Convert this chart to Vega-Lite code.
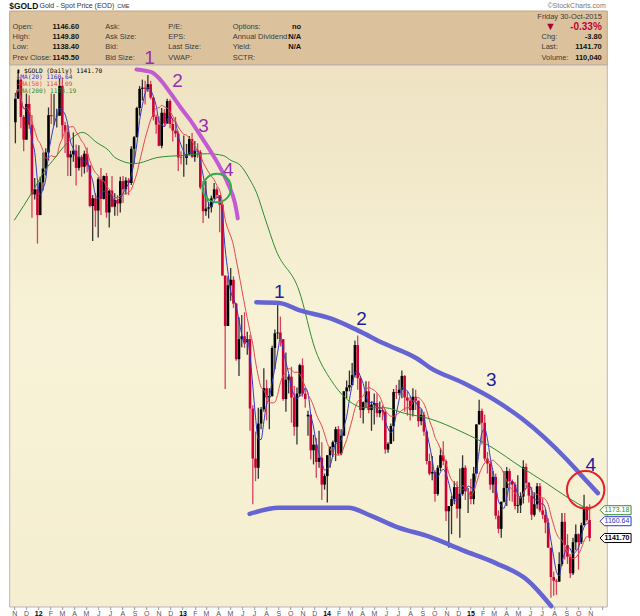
{
  "$schema": "https://vega.github.io/schema/vega-lite/v6.json",
  "autosize": {"type": "pad"},
  "padding": {"left": 8.2, "top": 0.5, "right": 0, "bottom": 0},
  "background": "#ffffff",
  "spacing": 0,
  "bounds": "flush",
  "config": {"font": "Liberation Sans", "concat": {"spacing": 0}},
  "datasets": {
    "header": [
      {"col": 0, "row": 0, "t": "$GOLD", "s": "ticker"},
      {"col": 2, "row": 0, "t": "Gold - Spot Price (EOD)", "s": "name"},
      {"col": 5, "row": 0, "t": "CME", "s": "exch"},
      {"col": 12, "row": 0, "t": "©StockCharts.com", "s": "credit"},
      {"col": 11, "row": 1, "t": "Friday  30-Oct-2015", "s": "date"},
      {"col": 1, "row": 2, "t": "Open:", "s": "label"},
      {"col": 1, "row": 3, "t": "High:", "s": "label"},
      {"col": 1, "row": 4, "t": "Low:", "s": "label"},
      {"col": 1, "row": 5, "t": "Prev Close:", "s": "label"},
      {"col": 3, "row": 2, "t": "1146.60", "s": "value"},
      {"col": 3, "row": 3, "t": "1149.80", "s": "value"},
      {"col": 3, "row": 4, "t": "1138.40", "s": "value"},
      {"col": 3, "row": 5, "t": "1145.50", "s": "value"},
      {"col": 4, "row": 2, "t": "Ask:", "s": "label"},
      {"col": 4, "row": 3, "t": "Ask Size:", "s": "label"},
      {"col": 4, "row": 4, "t": "Bid:", "s": "label"},
      {"col": 4, "row": 5, "t": "Bid Size:", "s": "label"},
      {"col": 6, "row": 2, "t": "P/E:", "s": "label"},
      {"col": 6, "row": 3, "t": "EPS:", "s": "label"},
      {"col": 6, "row": 4, "t": "Last Size:", "s": "label"},
      {"col": 6, "row": 5, "t": "VWAP:", "s": "label"},
      {"col": 7, "row": 2, "t": "Options:", "s": "label"},
      {"col": 7, "row": 3, "t": "Annual Dividend:", "s": "label"},
      {"col": 7, "row": 4, "t": "Yield:", "s": "label"},
      {"col": 7, "row": 5, "t": "SCTR:", "s": "label"},
      {"col": 8, "row": 2, "t": "no", "s": "rvalue"},
      {"col": 8, "row": 3, "t": "N/A", "s": "rvalue"},
      {"col": 8, "row": 4, "t": "N/A", "s": "rvalue"},
      {"col": 10, "row": 2, "t": "▼", "s": "arrow"},
      {"col": 11, "row": 2, "t": "-0.33%", "s": "change"},
      {"col": 9, "row": 3, "t": "Chg:", "s": "label"},
      {"col": 9, "row": 4, "t": "Last:", "s": "label"},
      {"col": 9, "row": 5, "t": "Volume:", "s": "label"},
      {"col": 11, "row": 3, "t": "-3.80", "s": "rvalue"},
      {"col": 11, "row": 4, "t": "1141.70", "s": "rvalue"},
      {"col": 11, "row": 5, "t": "110,040", "s": "rvalue"}
    ],
    "prices": [
      {"d": "2011-11-04", "o": 1715, "h": 1765, "l": 1680, "c": 1755},
      {"d": "2011-11-11", "o": 1755, "h": 1802, "l": 1755, "c": 1788},
      {"d": "2011-11-18", "o": 1788, "h": 1790, "l": 1705, "c": 1724},
      {"d": "2011-11-25", "o": 1724, "h": 1727, "l": 1667, "c": 1686},
      {"d": "2011-12-02", "o": 1686, "h": 1764, "l": 1686, "c": 1746},
      {"d": "2011-12-09", "o": 1746, "h": 1761, "l": 1704, "c": 1711},
      {"d": "2011-12-16", "o": 1711, "h": 1727, "l": 1562, "c": 1598},
      {"d": "2011-12-23", "o": 1598, "h": 1624, "l": 1590, "c": 1606},
      {"d": "2011-12-30", "o": 1606, "h": 1616, "l": 1523, "c": 1566},
      {"d": "2012-01-06", "o": 1566, "h": 1626, "l": 1566, "c": 1617},
      {"d": "2012-01-13", "o": 1617, "h": 1665, "l": 1604, "c": 1639},
      {"d": "2012-01-20", "o": 1639, "h": 1672, "l": 1628, "c": 1665},
      {"d": "2012-01-27", "o": 1665, "h": 1740, "l": 1652, "c": 1727},
      {"d": "2012-02-03", "o": 1727, "h": 1764, "l": 1712, "c": 1725},
      {"d": "2012-02-10", "o": 1725, "h": 1763, "l": 1710, "c": 1725},
      {"d": "2012-02-17", "o": 1725, "h": 1738, "l": 1706, "c": 1726},
      {"d": "2012-02-24", "o": 1726, "h": 1790, "l": 1726, "c": 1777},
      {"d": "2012-03-02", "o": 1777, "h": 1792, "l": 1688, "c": 1710},
      {"d": "2012-03-09", "o": 1710, "h": 1716, "l": 1664, "c": 1699},
      {"d": "2012-03-16", "o": 1699, "h": 1710, "l": 1627, "c": 1657},
      {"d": "2012-03-23", "o": 1657, "h": 1668, "l": 1627, "c": 1662},
      {"d": "2012-03-30", "o": 1662, "h": 1698, "l": 1650, "c": 1668},
      {"d": "2012-04-06", "o": 1668, "h": 1678, "l": 1612, "c": 1640},
      {"d": "2012-04-13", "o": 1640, "h": 1677, "l": 1636, "c": 1658},
      {"d": "2012-04-20", "o": 1658, "h": 1661, "l": 1626, "c": 1642},
      {"d": "2012-04-27", "o": 1642, "h": 1668, "l": 1631, "c": 1663},
      {"d": "2012-05-04", "o": 1663, "h": 1673, "l": 1633, "c": 1644},
      {"d": "2012-05-11", "o": 1644, "h": 1645, "l": 1578, "c": 1580},
      {"d": "2012-05-18", "o": 1580, "h": 1597, "l": 1527, "c": 1592},
      {"d": "2012-05-25", "o": 1592, "h": 1600, "l": 1548, "c": 1573},
      {"d": "2012-06-01", "o": 1573, "h": 1625, "l": 1532, "c": 1622},
      {"d": "2012-06-08", "o": 1622, "h": 1640, "l": 1566, "c": 1591},
      {"d": "2012-06-15", "o": 1591, "h": 1628, "l": 1590, "c": 1627},
      {"d": "2012-06-22", "o": 1627, "h": 1632, "l": 1562, "c": 1570},
      {"d": "2012-06-29", "o": 1570, "h": 1605, "l": 1547, "c": 1604},
      {"d": "2012-07-06", "o": 1604, "h": 1627, "l": 1578, "c": 1579},
      {"d": "2012-07-13", "o": 1579, "h": 1600, "l": 1565, "c": 1589},
      {"d": "2012-07-20", "o": 1589, "h": 1597, "l": 1565, "c": 1584},
      {"d": "2012-07-27", "o": 1584, "h": 1626, "l": 1570, "c": 1619},
      {"d": "2012-08-03", "o": 1619, "h": 1627, "l": 1585, "c": 1606},
      {"d": "2012-08-10", "o": 1606, "h": 1625, "l": 1598, "c": 1620},
      {"d": "2012-08-17", "o": 1620, "h": 1624, "l": 1597, "c": 1616},
      {"d": "2012-08-24", "o": 1616, "h": 1675, "l": 1613, "c": 1671},
      {"d": "2012-08-31", "o": 1671, "h": 1692, "l": 1647, "c": 1690},
      {"d": "2012-09-07", "o": 1690, "h": 1741, "l": 1690, "c": 1739},
      {"d": "2012-09-14", "o": 1739, "h": 1777, "l": 1726, "c": 1772},
      {"d": "2012-09-21", "o": 1772, "h": 1788, "l": 1752, "c": 1774},
      {"d": "2012-09-28", "o": 1774, "h": 1786, "l": 1745, "c": 1772},
      {"d": "2012-10-05", "o": 1772, "h": 1796, "l": 1767, "c": 1780},
      {"d": "2012-10-12", "o": 1780, "h": 1786, "l": 1754, "c": 1757},
      {"d": "2012-10-19", "o": 1757, "h": 1757, "l": 1718, "c": 1724},
      {"d": "2012-10-26", "o": 1724, "h": 1728, "l": 1696, "c": 1711},
      {"d": "2012-11-02", "o": 1711, "h": 1725, "l": 1675, "c": 1676},
      {"d": "2012-11-09", "o": 1676, "h": 1739, "l": 1672, "c": 1731},
      {"d": "2012-11-16", "o": 1731, "h": 1737, "l": 1707, "c": 1713},
      {"d": "2012-11-23", "o": 1713, "h": 1755, "l": 1713, "c": 1751},
      {"d": "2012-11-30", "o": 1751, "h": 1754, "l": 1705, "c": 1712},
      {"d": "2012-12-07", "o": 1712, "h": 1722, "l": 1683, "c": 1701},
      {"d": "2012-12-14", "o": 1701, "h": 1724, "l": 1690, "c": 1696},
      {"d": "2012-12-21", "o": 1696, "h": 1700, "l": 1635, "c": 1657},
      {"d": "2012-12-28", "o": 1657, "h": 1667, "l": 1646, "c": 1656},
      {"d": "2013-01-04", "o": 1656, "h": 1693, "l": 1626, "c": 1656},
      {"d": "2013-01-11", "o": 1656, "h": 1679, "l": 1645, "c": 1662},
      {"d": "2013-01-18", "o": 1662, "h": 1692, "l": 1660, "c": 1687},
      {"d": "2013-01-25", "o": 1687, "h": 1697, "l": 1656, "c": 1658},
      {"d": "2013-02-01", "o": 1658, "h": 1684, "l": 1650, "c": 1667},
      {"d": "2013-02-08", "o": 1667, "h": 1680, "l": 1656, "c": 1666},
      {"d": "2013-02-15", "o": 1666, "h": 1669, "l": 1606, "c": 1609},
      {"d": "2013-02-22", "o": 1609, "h": 1619, "l": 1554, "c": 1572},
      {"d": "2013-03-01", "o": 1572, "h": 1619, "l": 1565, "c": 1576},
      {"d": "2013-03-08", "o": 1576, "h": 1586, "l": 1561, "c": 1578},
      {"d": "2013-03-15", "o": 1578, "h": 1596, "l": 1570, "c": 1592},
      {"d": "2013-03-22", "o": 1592, "h": 1616, "l": 1590, "c": 1606},
      {"d": "2013-03-29", "o": 1606, "h": 1610, "l": 1592, "c": 1597},
      {"d": "2013-04-05", "o": 1597, "h": 1597, "l": 1540, "c": 1582},
      {"d": "2013-04-12", "o": 1582, "h": 1587, "l": 1476, "c": 1476},
      {"d": "2013-04-19", "o": 1476, "h": 1476, "l": 1321, "c": 1405},
      {"d": "2013-04-26", "o": 1405, "h": 1475, "l": 1405, "c": 1462},
      {"d": "2013-05-03", "o": 1462, "h": 1487, "l": 1440, "c": 1470},
      {"d": "2013-05-10", "o": 1470, "h": 1475, "l": 1430, "c": 1436},
      {"d": "2013-05-17", "o": 1436, "h": 1437, "l": 1358, "c": 1360},
      {"d": "2013-05-24", "o": 1360, "h": 1417, "l": 1338, "c": 1387},
      {"d": "2013-05-31", "o": 1387, "h": 1420, "l": 1376, "c": 1391},
      {"d": "2013-06-07", "o": 1391, "h": 1424, "l": 1375, "c": 1383},
      {"d": "2013-06-14", "o": 1383, "h": 1397, "l": 1366, "c": 1387},
      {"d": "2013-06-21", "o": 1387, "h": 1393, "l": 1268, "c": 1296},
      {"d": "2013-06-28", "o": 1296, "h": 1300, "l": 1180, "c": 1234},
      {"d": "2013-07-05", "o": 1234, "h": 1267, "l": 1207, "c": 1223},
      {"d": "2013-07-12", "o": 1223, "h": 1297, "l": 1210, "c": 1277},
      {"d": "2013-07-19", "o": 1277, "h": 1298, "l": 1270, "c": 1295},
      {"d": "2013-07-26", "o": 1295, "h": 1348, "l": 1292, "c": 1322},
      {"d": "2013-08-02", "o": 1322, "h": 1333, "l": 1281, "c": 1310},
      {"d": "2013-08-09", "o": 1310, "h": 1322, "l": 1270, "c": 1312},
      {"d": "2013-08-16", "o": 1312, "h": 1378, "l": 1311, "c": 1375},
      {"d": "2013-08-23", "o": 1375, "h": 1400, "l": 1347, "c": 1395},
      {"d": "2013-08-30", "o": 1395, "h": 1434, "l": 1387, "c": 1396},
      {"d": "2013-09-06", "o": 1396, "h": 1418, "l": 1377, "c": 1387},
      {"d": "2013-09-13", "o": 1387, "h": 1387, "l": 1306, "c": 1308},
      {"d": "2013-09-20", "o": 1308, "h": 1369, "l": 1292, "c": 1333},
      {"d": "2013-09-27", "o": 1333, "h": 1340, "l": 1315, "c": 1337},
      {"d": "2013-10-04", "o": 1337, "h": 1350, "l": 1278, "c": 1310},
      {"d": "2013-10-11", "o": 1310, "h": 1325, "l": 1262, "c": 1273},
      {"d": "2013-10-18", "o": 1273, "h": 1323, "l": 1251, "c": 1315},
      {"d": "2013-10-25", "o": 1315, "h": 1354, "l": 1311, "c": 1352},
      {"d": "2013-11-01", "o": 1352, "h": 1361, "l": 1311, "c": 1315},
      {"d": "2013-11-08", "o": 1315, "h": 1323, "l": 1297, "c": 1308},
      {"d": "2013-11-15", "o": 1286, "h": 1293, "l": 1262, "c": 1288},
      {"d": "2013-11-22", "o": 1288, "h": 1289, "l": 1233, "c": 1244},
      {"d": "2013-11-29", "o": 1244, "h": 1263, "l": 1227, "c": 1251},
      {"d": "2013-12-06", "o": 1251, "h": 1259, "l": 1211, "c": 1230},
      {"d": "2013-12-13", "o": 1230, "h": 1268, "l": 1223, "c": 1235},
      {"d": "2013-12-20", "o": 1235, "h": 1254, "l": 1185, "c": 1203},
      {"d": "2013-12-27", "o": 1203, "h": 1216, "l": 1197, "c": 1213},
      {"d": "2014-01-03", "o": 1213, "h": 1238, "l": 1182, "c": 1238},
      {"d": "2014-01-10", "o": 1238, "h": 1249, "l": 1223, "c": 1248},
      {"d": "2014-01-17", "o": 1248, "h": 1256, "l": 1236, "c": 1254},
      {"d": "2014-01-24", "o": 1254, "h": 1273, "l": 1231, "c": 1270},
      {"d": "2014-01-31", "o": 1270, "h": 1274, "l": 1238, "c": 1240},
      {"d": "2014-02-07", "o": 1240, "h": 1270, "l": 1238, "c": 1262},
      {"d": "2014-02-14", "o": 1262, "h": 1318, "l": 1262, "c": 1318},
      {"d": "2014-02-21", "o": 1318, "h": 1332, "l": 1309, "c": 1323},
      {"d": "2014-02-28", "o": 1323, "h": 1345, "l": 1318, "c": 1326},
      {"d": "2014-03-07", "o": 1326, "h": 1355, "l": 1327, "c": 1339},
      {"d": "2014-03-14", "o": 1339, "h": 1385, "l": 1336, "c": 1379},
      {"d": "2014-03-21", "o": 1379, "h": 1392, "l": 1320, "c": 1335},
      {"d": "2014-03-28", "o": 1335, "h": 1338, "l": 1284, "c": 1294},
      {"d": "2014-04-04", "o": 1294, "h": 1305, "l": 1277, "c": 1304},
      {"d": "2014-04-11", "o": 1304, "h": 1331, "l": 1297, "c": 1318},
      {"d": "2014-04-18", "o": 1318, "h": 1331, "l": 1290, "c": 1294},
      {"d": "2014-04-25", "o": 1294, "h": 1305, "l": 1268, "c": 1301},
      {"d": "2014-05-02", "o": 1301, "h": 1315, "l": 1276, "c": 1303},
      {"d": "2014-05-09", "o": 1303, "h": 1315, "l": 1285, "c": 1290},
      {"d": "2014-05-16", "o": 1290, "h": 1305, "l": 1285, "c": 1294},
      {"d": "2014-05-23", "o": 1294, "h": 1300, "l": 1281, "c": 1292},
      {"d": "2014-05-30", "o": 1292, "h": 1295, "l": 1240, "c": 1245},
      {"d": "2014-06-06", "o": 1245, "h": 1254, "l": 1241, "c": 1252},
      {"d": "2014-06-13", "o": 1252, "h": 1277, "l": 1252, "c": 1274},
      {"d": "2014-06-20", "o": 1274, "h": 1321, "l": 1255, "c": 1317},
      {"d": "2014-06-27", "o": 1317, "h": 1326, "l": 1308, "c": 1316},
      {"d": "2014-07-04", "o": 1316, "h": 1333, "l": 1313, "c": 1320},
      {"d": "2014-07-11", "o": 1320, "h": 1345, "l": 1309, "c": 1338},
      {"d": "2014-07-18", "o": 1338, "h": 1339, "l": 1292, "c": 1310},
      {"d": "2014-07-25", "o": 1310, "h": 1318, "l": 1287, "c": 1306},
      {"d": "2014-08-01", "o": 1306, "h": 1311, "l": 1281, "c": 1294},
      {"d": "2014-08-08", "o": 1294, "h": 1322, "l": 1286, "c": 1311},
      {"d": "2014-08-15", "o": 1311, "h": 1320, "l": 1294, "c": 1306},
      {"d": "2014-08-22", "o": 1306, "h": 1306, "l": 1273, "c": 1280},
      {"d": "2014-08-29", "o": 1280, "h": 1295, "l": 1275, "c": 1288},
      {"d": "2014-09-05", "o": 1288, "h": 1292, "l": 1262, "c": 1267},
      {"d": "2014-09-12", "o": 1267, "h": 1269, "l": 1227, "c": 1231},
      {"d": "2014-09-19", "o": 1231, "h": 1240, "l": 1214, "c": 1216},
      {"d": "2014-09-26", "o": 1216, "h": 1237, "l": 1208, "c": 1218},
      {"d": "2014-10-03", "o": 1218, "h": 1220, "l": 1183, "c": 1192},
      {"d": "2014-10-10", "o": 1192, "h": 1226, "l": 1190, "c": 1223},
      {"d": "2014-10-17", "o": 1223, "h": 1247, "l": 1219, "c": 1238},
      {"d": "2014-10-24", "o": 1238, "h": 1255, "l": 1226, "c": 1231},
      {"d": "2014-10-31", "o": 1231, "h": 1233, "l": 1161, "c": 1172},
      {"d": "2014-11-07", "o": 1172, "h": 1176, "l": 1131, "c": 1178},
      {"d": "2014-11-14", "o": 1178, "h": 1190, "l": 1146, "c": 1186},
      {"d": "2014-11-21", "o": 1186, "h": 1207, "l": 1180, "c": 1200},
      {"d": "2014-11-28", "o": 1200, "h": 1207, "l": 1164, "c": 1175},
      {"d": "2014-12-05", "o": 1175, "h": 1222, "l": 1142, "c": 1192},
      {"d": "2014-12-12", "o": 1192, "h": 1238, "l": 1190, "c": 1223},
      {"d": "2014-12-19", "o": 1223, "h": 1226, "l": 1185, "c": 1195},
      {"d": "2014-12-26", "o": 1195, "h": 1199, "l": 1170, "c": 1195},
      {"d": "2015-01-02", "o": 1195, "h": 1210, "l": 1180, "c": 1186},
      {"d": "2015-01-09", "o": 1186, "h": 1224, "l": 1180, "c": 1216},
      {"d": "2015-01-16", "o": 1216, "h": 1276, "l": 1216, "c": 1276},
      {"d": "2015-01-23", "o": 1276, "h": 1307, "l": 1276, "c": 1293},
      {"d": "2015-01-30", "o": 1293, "h": 1296, "l": 1251, "c": 1278},
      {"d": "2015-02-06", "o": 1278, "h": 1288, "l": 1231, "c": 1234},
      {"d": "2015-02-13", "o": 1234, "h": 1242, "l": 1216, "c": 1228},
      {"d": "2015-02-20", "o": 1228, "h": 1231, "l": 1197, "c": 1203},
      {"d": "2015-02-27", "o": 1203, "h": 1219, "l": 1193, "c": 1212},
      {"d": "2015-03-06", "o": 1212, "h": 1216, "l": 1163, "c": 1167},
      {"d": "2015-03-13", "o": 1167, "h": 1173, "l": 1147, "c": 1152},
      {"d": "2015-03-20", "o": 1152, "h": 1183, "l": 1142, "c": 1183},
      {"d": "2015-03-27", "o": 1183, "h": 1219, "l": 1182, "c": 1199},
      {"d": "2015-04-03", "o": 1199, "h": 1224, "l": 1178, "c": 1219},
      {"d": "2015-04-10", "o": 1219, "h": 1222, "l": 1184, "c": 1207},
      {"d": "2015-04-17", "o": 1207, "h": 1209, "l": 1183, "c": 1203},
      {"d": "2015-04-24", "o": 1203, "h": 1206, "l": 1174, "c": 1178},
      {"d": "2015-05-01", "o": 1178, "h": 1214, "l": 1170, "c": 1179},
      {"d": "2015-05-08", "o": 1179, "h": 1194, "l": 1170, "c": 1189},
      {"d": "2015-05-15", "o": 1189, "h": 1232, "l": 1181, "c": 1224},
      {"d": "2015-05-22", "o": 1224, "h": 1228, "l": 1200, "c": 1205},
      {"d": "2015-05-29", "o": 1205, "h": 1206, "l": 1182, "c": 1190},
      {"d": "2015-06-05", "o": 1190, "h": 1200, "l": 1162, "c": 1168},
      {"d": "2015-06-12", "o": 1168, "h": 1194, "l": 1166, "c": 1180},
      {"d": "2015-06-19", "o": 1180, "h": 1205, "l": 1175, "c": 1201},
      {"d": "2015-06-26", "o": 1201, "h": 1205, "l": 1171, "c": 1173},
      {"d": "2015-07-03", "o": 1173, "h": 1187, "l": 1163, "c": 1168},
      {"d": "2015-07-10", "o": 1168, "h": 1175, "l": 1147, "c": 1159},
      {"d": "2015-07-17", "o": 1159, "h": 1164, "l": 1131, "c": 1131},
      {"d": "2015-07-24", "o": 1131, "h": 1131, "l": 1077, "c": 1099},
      {"d": "2015-07-31", "o": 1099, "h": 1105, "l": 1079, "c": 1095},
      {"d": "2015-08-07", "o": 1095, "h": 1097, "l": 1080, "c": 1094},
      {"d": "2015-08-14", "o": 1094, "h": 1126, "l": 1094, "c": 1113},
      {"d": "2015-08-21", "o": 1113, "h": 1170, "l": 1111, "c": 1160},
      {"d": "2015-08-28", "o": 1160, "h": 1170, "l": 1118, "c": 1134},
      {"d": "2015-09-04", "o": 1134, "h": 1146, "l": 1113, "c": 1121},
      {"d": "2015-09-11", "o": 1121, "h": 1124, "l": 1098, "c": 1103},
      {"d": "2015-09-18", "o": 1103, "h": 1142, "l": 1101, "c": 1137},
      {"d": "2015-09-25", "o": 1137, "h": 1157, "l": 1128, "c": 1146},
      {"d": "2015-10-02", "o": 1146, "h": 1147, "l": 1107, "c": 1137},
      {"d": "2015-10-09", "o": 1137, "h": 1159, "l": 1135, "c": 1156},
      {"d": "2015-10-16", "o": 1156, "h": 1191, "l": 1156, "c": 1177},
      {"d": "2015-10-23", "o": 1177, "h": 1178, "l": 1160, "c": 1162},
      {"d": "2015-10-30", "o": 1162, "h": 1180, "l": 1138, "c": 1141.7}
    ],
    "ma200": [
      {"d": "2011-11-01", "p": 1558},
      {"d": "2011-12-19", "p": 1604},
      {"d": "2012-01-21", "p": 1639},
      {"d": "2012-02-07", "p": 1652},
      {"d": "2012-03-15", "p": 1681},
      {"d": "2012-04-22", "p": 1698},
      {"d": "2012-05-29", "p": 1681},
      {"d": "2012-06-28", "p": 1668},
      {"d": "2012-07-13", "p": 1657},
      {"d": "2012-09-01", "p": 1647},
      {"d": "2012-10-31", "p": 1657},
      {"d": "2012-12-27", "p": 1660},
      {"d": "2013-03-05", "p": 1663},
      {"d": "2013-04-14", "p": 1660},
      {"d": "2013-05-04", "p": 1652},
      {"d": "2013-05-26", "p": 1645},
      {"d": "2013-06-20", "p": 1622},
      {"d": "2013-07-08", "p": 1600},
      {"d": "2013-07-27", "p": 1565},
      {"d": "2013-08-26", "p": 1513},
      {"d": "2013-10-23", "p": 1455},
      {"d": "2013-12-04", "p": 1372},
      {"d": "2014-01-13", "p": 1332},
      {"d": "2014-02-17", "p": 1310},
      {"d": "2014-04-08", "p": 1297},
      {"d": "2014-05-28", "p": 1297},
      {"d": "2014-07-17", "p": 1290},
      {"d": "2014-09-20", "p": 1283},
      {"d": "2014-12-13", "p": 1266},
      {"d": "2015-02-16", "p": 1250},
      {"d": "2015-05-12", "p": 1223},
      {"d": "2015-07-08", "p": 1206},
      {"d": "2015-09-04", "p": 1188},
      {"d": "2015-10-30", "p": 1173.19}
    ],
    "purple": [
      {"d": "2012-09-06", "p": 1806},
      {"d": "2012-10-14", "p": 1801},
      {"d": "2012-11-08", "p": 1786},
      {"d": "2012-12-03", "p": 1763},
      {"d": "2012-12-27", "p": 1740},
      {"d": "2013-01-21", "p": 1718},
      {"d": "2013-02-15", "p": 1693},
      {"d": "2013-03-12", "p": 1668},
      {"d": "2013-04-06", "p": 1641},
      {"d": "2013-04-26", "p": 1615},
      {"d": "2013-05-14", "p": 1584},
      {"d": "2013-05-21", "p": 1561}
    ],
    "channel": [
      {"g": "upper", "d": "2013-07-07", "p": 1438},
      {"g": "upper", "d": "2013-09-03", "p": 1437},
      {"g": "upper", "d": "2013-10-23", "p": 1427},
      {"g": "upper", "d": "2014-01-13", "p": 1415},
      {"g": "upper", "d": "2014-03-21", "p": 1399},
      {"g": "upper", "d": "2014-05-27", "p": 1381},
      {"g": "upper", "d": "2014-08-18", "p": 1361},
      {"g": "upper", "d": "2014-09-20", "p": 1349},
      {"g": "upper", "d": "2014-12-13", "p": 1329},
      {"g": "upper", "d": "2015-03-06", "p": 1306},
      {"g": "upper", "d": "2015-05-12", "p": 1283},
      {"g": "upper", "d": "2015-07-09", "p": 1259},
      {"g": "upper", "d": "2015-09-04", "p": 1232},
      {"g": "upper", "d": "2015-10-09", "p": 1214},
      {"g": "upper", "d": "2015-11-20", "p": 1193},
      {"g": "lower", "d": "2013-06-20", "p": 1169},
      {"g": "lower", "d": "2013-09-03", "p": 1176},
      {"g": "lower", "d": "2014-02-25", "p": 1176},
      {"g": "lower", "d": "2014-04-23", "p": 1167},
      {"g": "lower", "d": "2014-06-29", "p": 1154},
      {"g": "lower", "d": "2014-09-20", "p": 1143},
      {"g": "lower", "d": "2014-12-13", "p": 1128},
      {"g": "lower", "d": "2015-03-06", "p": 1114},
      {"g": "lower", "d": "2015-05-27", "p": 1095},
      {"g": "lower", "d": "2015-07-25", "p": 1068}
    ],
    "purpleNotes": [
      {"d": "2012-10-09", "p": 1827, "t": "1"},
      {"d": "2012-12-19", "p": 1786, "t": "2"},
      {"d": "2013-02-23", "p": 1709, "t": "3"},
      {"d": "2013-04-27", "p": 1636, "t": "4"}
    ],
    "blueNotes": [
      {"d": "2013-09-03", "p": 1452, "t": "1"},
      {"d": "2014-03-31", "p": 1414, "t": "2"},
      {"d": "2015-02-23", "p": 1333, "t": "3"},
      {"d": "2015-11-02", "p": 1226, "t": "4"}
    ],
    "legendRows": [
      {"d": "2011-11-07", "p": 1804, "k": "GOLD", "t": "▮ $GOLD (Daily) 1141.70"},
      {"d": "2011-11-07", "p": 1792, "k": "MA(20)", "t": "–MA(20) 1160.64"},
      {"d": "2011-11-07", "p": 1781, "k": "MA(50)", "t": "–MA(50) 1141.09"},
      {"d": "2011-11-07", "p": 1769, "k": "MA(200)", "t": "–MA(200) 1173.19"}
    ],
    "tags": [
      {"d": "2015-10-30", "p": 1173.19, "k": "MA(200)", "t": "1173.18"},
      {"d": "2015-10-30", "p": 1160.64, "k": "MA(20)", "t": "1160.64"},
      {"d": "2015-10-30", "p": 1141.7, "k": "GOLD", "t": "1141.70"}
    ]
  },
  "vconcat": [
    {
      "width": 597.6,
      "height": 54,
      "view": {"fill": "#dbc29d", "stroke": "#c4a47c"},
      "data": {"name": "header"},
      "encoding": {
        "x": {
          "field": "col", "type": "quantitative", "axis": null,
          "scale": {
            "domain": [0, 1, 2, 3, 4, 5, 6, 7, 8, 9, 10, 11, 12],
            "range": [0, 3.3, 30.3, 43.3, 96, 108, 159, 223.5, 292, 532.3, 541.3, 592.6, 596.6],
            "zero": false, "nice": false
          }
        },
        "y": {
          "field": "row", "type": "quantitative", "axis": null,
          "scale": {
            "domain": [0, 1, 2, 3, 4, 5],
            "range": [-4.7, 6, 16.7, 26.7, 36.7, 47.3],
            "zero": false, "nice": false
          }
        },
        "text": {"field": "t"}
      },
      "layer": [
        {"transform": [{"filter": "datum.s == 'label'"}],
         "mark": {"type": "text", "align": "left", "baseline": "middle", "fontSize": 7.5, "color": "#3a3a3a"}},
        {"transform": [{"filter": "datum.s == 'value'"}],
         "mark": {"type": "text", "align": "left", "baseline": "middle", "fontSize": 7.5, "fontWeight": "bold", "color": "#111"}},
        {"transform": [{"filter": "datum.s == 'rvalue'"}],
         "mark": {"type": "text", "align": "right", "baseline": "middle", "fontSize": 7.5, "fontWeight": "bold", "color": "#111"}},
        {"transform": [{"filter": "datum.s == 'date'"}],
         "mark": {"type": "text", "align": "right", "baseline": "middle", "fontSize": 7.5, "color": "#3a3a3a"}},
        {"transform": [{"filter": "datum.s == 'change'"}],
         "mark": {"type": "text", "align": "right", "baseline": "middle", "fontSize": 10, "fontWeight": "bold", "color": "#c2003a"}},
        {"transform": [{"filter": "datum.s == 'arrow'"}],
         "mark": {"type": "text", "align": "center", "baseline": "middle", "fontSize": 11, "color": "#a8003a"}},
        {"transform": [{"filter": "datum.s == 'ticker'"}],
         "mark": {"type": "text", "align": "left", "baseline": "middle", "fontSize": 8.5, "fontWeight": "bold", "color": "#111"}},
        {"transform": [{"filter": "datum.s == 'name'"}],
         "mark": {"type": "text", "align": "left", "baseline": "middle", "fontSize": 7, "color": "#333"}},
        {"transform": [{"filter": "datum.s == 'exch'"}],
         "mark": {"type": "text", "align": "left", "baseline": "middle", "fontSize": 5.5, "color": "#333"}},
        {"transform": [{"filter": "datum.s == 'credit'"}],
         "mark": {"type": "text", "align": "right", "baseline": "middle", "fontSize": 7, "color": "#777"}}
      ]
    },
    {
      "width": 597.6,
      "height": 542,
      "view": {
        "fill": {
          "gradient": "linear", "x1": 0, "y1": 0, "x2": 0, "y2": 1,
          "stops": [
            {"offset": 0, "color": "#eee2c2"},
            {"offset": 0.5, "color": "#f8f3d8"},
            {"offset": 1, "color": "#f5eed0"}
          ]
        },
        "stroke": "#bbb3c2"
      },
      "encoding": {
        "x": {
          "field": "d", "type": "temporal",
          "scale": {
            "type": "utc",
            "domain": [
              {"year": 2011, "month": 11, "date": 1, "utc": true},
              {"year": 2015, "month": 11, "date": 30, "utc": true}
            ]
          },
          "axis": {
            "title": null, "orient": "bottom", "domain": false, "grid": false,
            "tickCount": {"interval": "month", "step": 1},
            "tickSize": 3, "tickColor": "#999", "labelFontSize": 7, "labelPadding": 0,
            "labelOverlap": false, "labelFlush": false, "labelBound": false,
            "labelExpr": "utcyear(datum.value) == 2015 && utcmonth(datum.value) == 11 ? '' : (utcmonth(datum.value) == 0 ? utcFormat(datum.value, '%y') : slice(utcFormat(datum.value, '%b'), 0, 1))",
            "labelColor": {"condition": {"test": "utcmonth(datum.value) == 0", "value": "#000"}, "value": "#555"},
            "labelFontWeight": {"condition": {"test": "utcmonth(datum.value) == 0", "value": "bold"}, "value": "normal"}
          }
        }
      },
      "layer": [
        {
          "data": {"name": "prices"},
          "mark": {"type": "rule", "strokeWidth": 1.3},
          "encoding": {
            "y": {
              "field": "l", "type": "quantitative",
              "scale": {"type": "log", "domain": [1067.7, 1814.7], "nice": false, "zero": false},
              "axis": {
                "title": null, "orient": "right", "domain": false, "grid": false,
                "values": [1080, 1100, 1120, 1140, 1160, 1180, 1200, 1220, 1240, 1260, 1280, 1300, 1320, 1340, 1360, 1380, 1400, 1420, 1440, 1460, 1480, 1500, 1520, 1540, 1560, 1580, 1600, 1620, 1640, 1660, 1680, 1700, 1720, 1740, 1760, 1780, 1800],
                "format": "d", "tickSize": 3, "tickColor": "#999",
                "labelFontSize": 7, "labelColor": "#555", "labelPadding": 1, "labelOverlap": false
              }
            },
            "y2": {"field": "h"},
            "color": {"condition": {"test": "datum.c >= datum.o", "value": "#333"}, "value": "#d8405c"}
          }
        },
        {
          "data": {"name": "prices"},
          "mark": {"type": "bar", "size": 2.6},
          "encoding": {
            "y": {"field": "o", "type": "quantitative", "axis": null},
            "y2": {"field": "c"},
            "color": {"condition": {"test": "datum.c >= datum.o", "value": "#000"}, "value": "#cc0033"}
          }
        },
        {
          "data": {"name": "prices"},
          "transform": [
            {"window": [{"op": "mean", "field": "c", "as": "MA(20)"}], "frame": [-3, 0], "sort": [{"field": "d"}]},
            {"window": [{"op": "mean", "field": "c", "as": "MA(50)"}], "frame": [-9, 0], "sort": [{"field": "d"}]},
            {"fold": ["MA(20)", "MA(50)"], "as": ["k", "v"]}
          ],
          "mark": {"type": "line", "strokeWidth": 1, "interpolate": "monotone"},
          "encoding": {
            "y": {"field": "v", "type": "quantitative", "axis": null},
            "color": {
              "field": "k", "type": "nominal", "legend": null,
              "scale": {"domain": ["GOLD", "MA(20)", "MA(50)", "MA(200)"], "range": ["#000000", "#3434c8", "#e4474b", "#2e8b2e"]}
            }
          }
        },
        {
          "data": {"name": "ma200"},
          "mark": {"type": "line", "strokeWidth": 1, "interpolate": "monotone"},
          "encoding": {
            "y": {"field": "p", "type": "quantitative", "axis": null},
            "color": {"datum": "MA(200)", "type": "nominal", "legend": null}
          }
        },
        {
          "data": {"name": "purple"},
          "mark": {"type": "line", "strokeWidth": 4, "color": "#c25ad2", "interpolate": "monotone", "strokeCap": "round"},
          "encoding": {"y": {"field": "p", "type": "quantitative", "axis": null}}
        },
        {
          "data": {"name": "purpleNotes"},
          "mark": {"type": "text", "fontSize": 19, "color": "#9a2fb0", "align": "center", "baseline": "middle"},
          "encoding": {"y": {"field": "p", "type": "quantitative", "axis": null}, "text": {"field": "t"}}
        },
        {
          "data": {"values": [{"d": "2013-03-29", "p": 1608}]},
          "mark": {"type": "point", "shape": "circle", "size": 810, "filled": false, "strokeWidth": 2, "color": "#2cae4a", "opacity": 1},
          "encoding": {"y": {"field": "p", "type": "quantitative", "axis": null}}
        },
        {
          "data": {"name": "channel"},
          "mark": {"type": "line", "strokeWidth": 4.5, "color": "#6464d2", "interpolate": "monotone", "strokeCap": "round"},
          "encoding": {"y": {"field": "p", "type": "quantitative", "axis": null}, "detail": {"field": "g"}}
        },
        {
          "data": {"name": "blueNotes"},
          "mark": {"type": "text", "fontSize": 19, "color": "#1c1c9c", "align": "center", "baseline": "middle"},
          "encoding": {"y": {"field": "p", "type": "quantitative", "axis": null}, "text": {"field": "t"}}
        },
        {
          "data": {"values": [{"d": "2015-10-20", "p": 1197}]},
          "mark": {"type": "point", "shape": "circle", "size": 1400, "filled": false, "strokeWidth": 2, "color": "#e8202a", "opacity": 1},
          "encoding": {"y": {"field": "p", "type": "quantitative", "axis": null}}
        },
        {
          "data": {"name": "legendRows"},
          "mark": {"type": "text", "font": "DejaVu Sans Mono", "fontSize": 6.2, "align": "left", "baseline": "middle"},
          "encoding": {
            "y": {"field": "p", "type": "quantitative", "axis": null},
            "text": {"field": "t"},
            "color": {"field": "k", "type": "nominal", "legend": null}
          }
        },
        {
          "data": {"name": "tags"},
          "mark": {"type": "point", "shape": "M-1,0L-0.72,-0.29L1,-0.29L1,0.29L-0.72,0.29Z", "size": 961, "filled": true, "fill": "#ffffff", "strokeWidth": 1, "xOffset": 26, "opacity": 1},
          "encoding": {
            "y": {"field": "p", "type": "quantitative", "axis": null},
            "stroke": {
              "field": "k", "type": "nominal", "legend": null,
              "scale": {"domain": ["GOLD", "MA(20)", "MA(50)", "MA(200)"], "range": ["#000000", "#3434c8", "#e4474b", "#2e8b2e"]}
            }
          }
        },
        {
          "data": {"name": "tags"},
          "transform": [{"filter": "datum.k != 'GOLD'"}],
          "mark": {"type": "text", "fontSize": 7, "align": "left", "baseline": "middle", "dx": 15},
          "encoding": {
            "y": {"field": "p", "type": "quantitative", "axis": null},
            "text": {"field": "t"},
            "color": {"field": "k", "type": "nominal", "legend": null}
          }
        },
        {
          "data": {"name": "tags"},
          "transform": [{"filter": "datum.k == 'GOLD'"}],
          "mark": {"type": "text", "fontSize": 7, "fontWeight": "bold", "align": "left", "baseline": "middle", "dx": 15},
          "encoding": {
            "y": {"field": "p", "type": "quantitative", "axis": null},
            "text": {"field": "t"},
            "color": {"field": "k", "type": "nominal", "legend": null}
          }
        }
      ]
    }
  ]
}
